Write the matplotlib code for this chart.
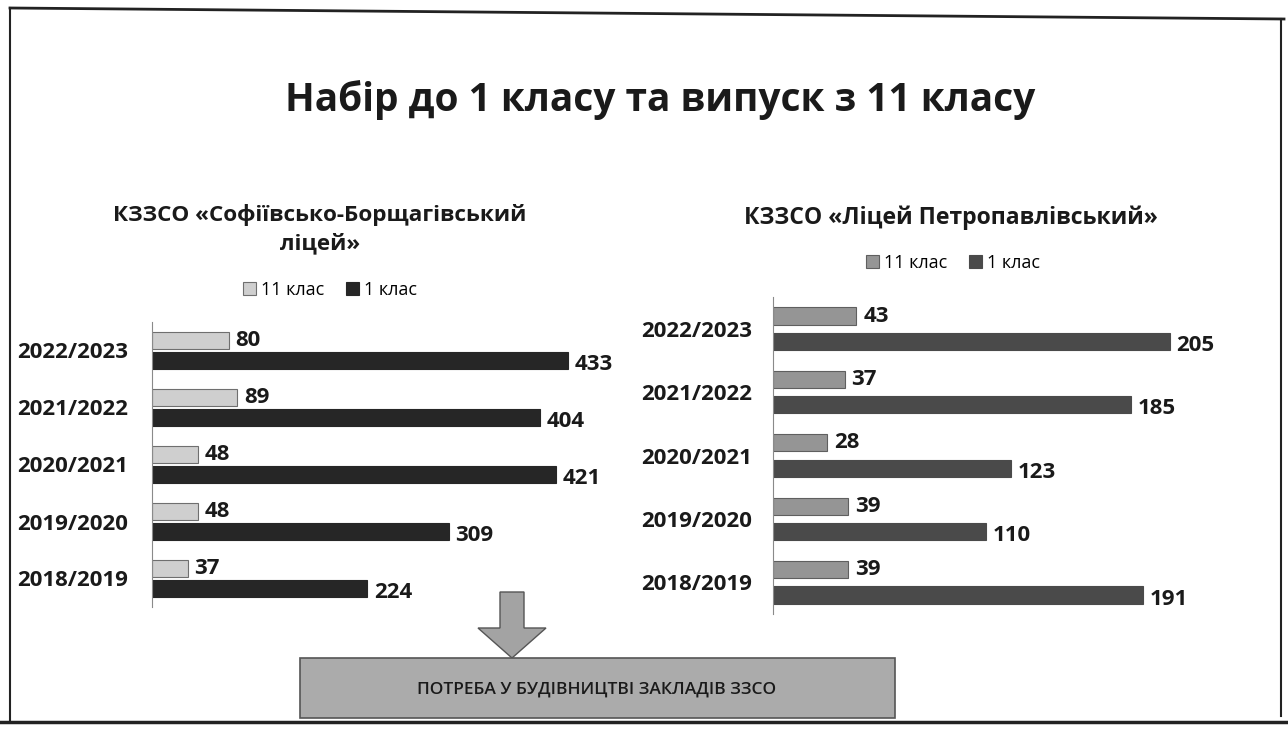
# Набір до 1 класу та випуск з 11 класу - two horizontal bar charts on one slide
import matplotlib.pyplot as plt
from matplotlib.patches import Polygon, Rectangle
import numpy as np

plt.rcParams['font.family'] = ['Open Sans', 'DejaVu Sans']

# Data
years = ['2022/2023', '2021/2022', '2020/2021', '2019/2020', '2018/2019']
# КЗЗСО «Софіївсько-Борщагівський ліцей»
sb_grade11 = [80, 89, 48, 48, 37]
sb_grade1 = [433, 404, 421, 309, 224]
# КЗЗСО «Ліцей Петропавлівський»
pp_grade11 = [43, 37, 28, 39, 39]
pp_grade1 = [205, 185, 123, 110, 191]

W, H = 1288, 729
fig = plt.figure(figsize=(W / 100, H / 100), dpi=100)


def px_axes(x0, y0, x1, y1):
    # axes placed by pixel box (top-left origin)
    return fig.add_axes([x0 / W, 1 - y1 / H, (x1 - x0) / W, (y1 - y0) / H])


# Overlay for slide frame, arrow and box
bg = fig.add_axes([0, 0, 1, 1])
bg.set_xlim(0, W)
bg.set_ylim(H, 0)
bg.axis('off')
bg.plot([10, 1284], [8, 19], color='#222222', lw=2)
bg.plot([10, 10], [8, 722], color='#222222', lw=1.5)
bg.plot([1281, 1281], [19, 716], color='#222222', lw=1.5)
bg.plot([0, W], [722, 722], color='#222222', lw=2.5)

arrow = Polygon([(500, 592), (524, 592), (524, 628), (546, 628), (512, 658),
                 (478, 628), (500, 628)], closed=True,
                facecolor='#a3a3a3', edgecolor='#555555', lw=1)
bg.add_patch(arrow)
bg.add_patch(Rectangle((300, 658), 595, 60, facecolor='#ababab',
                       edgecolor='#555555', lw=1.2))
bg.text(597, 690, 'ПОТРЕБА У БУДІВНИЦТВІ ЗАКЛАДІВ ЗЗСО', ha='center',
        va='center', fontsize=12.5, fontweight='semibold', color='#1a1a1a')

# Titles
fig.text(660 / W, 1 - 100 / H, 'Набір до 1 класу та випуск з 11 класу',
         ha='center', va='center', fontsize=28, fontweight='bold', color='#1a1a1a')
fig.text(320 / W, 1 - 229 / H, 'КЗЗСО «Софіївсько-Борщагівський\nліцей»',
         ha='center', va='center', fontsize=16.2, fontweight='bold',
         linespacing=1.4, color='#1a1a1a')
fig.text(951 / W, 1 - 218 / H, 'КЗЗСО «Ліцей Петропавлівський»',
         ha='center', va='center', fontsize=16.6, fontweight='bold', color='#1a1a1a')


def draw_chart(ax, v11, v1, c11, e11, c1, xmax, off, h, pad):
    y = np.arange(len(years))
    ax.barh(y - off, v11, height=h, color=c11, edgecolor=e11, linewidth=0.8,
            label='11 клас')
    ax.barh(y + off, v1, height=h, color=c1, edgecolor=c1, linewidth=0.8,
            label='1 клас')
    ax.set_xlim(0, xmax)
    ax.set_ylim(len(years) - 0.5, -0.5)
    ax.set_yticks(y, years, fontsize=16, fontweight='bold', color='#1a1a1a')
    ax.tick_params(axis='y', length=0, pad=pad)
    ax.set_xticks([])
    for s in ['top', 'right', 'bottom']:
        ax.spines[s].set_visible(False)
    ax.spines['left'].set_color('#8a8a8a')
    ax.patch.set_visible(False)
    for yy, v in zip(y - off, v11):
        ax.annotate(str(v), (v, yy), xytext=(5, 0), textcoords='offset points',
                    va='center', fontsize=16, fontweight='bold', color='#1a1a1a')
    for yy, v in zip(y + off, v1):
        ax.annotate(str(v), (v, yy), xytext=(5, -3), textcoords='offset points',
                    va='center', fontsize=16, fontweight='bold', color='#1a1a1a')


ax1 = px_axes(152, 322, 584, 607)
draw_chart(ax1, sb_grade11, sb_grade1, '#cfcfcf', '#6f6f6f', '#262626',
           450, 0.18, 0.29, 17)
ax2 = px_axes(773, 297, 1189, 614)
draw_chart(ax2, pp_grade11, pp_grade1, '#959595', '#5f5f5f', '#4a4a4a',
           215, 0.2, 0.27, 15)

# Legends
for ax, cx, cy in [(ax1, 330, 290), (ax2, 953, 263)]:
    hnd, lab = ax.get_legend_handles_labels()
    fig.legend(hnd, lab, loc='center', bbox_to_anchor=(cx / W, 1 - cy / H),
               ncol=2, frameon=False, fontsize=13, handlelength=0.7,
               handleheight=0.7, handletextpad=0.3, columnspacing=1.2)

plt.savefig('out.png', dpi=100, facecolor='white')
